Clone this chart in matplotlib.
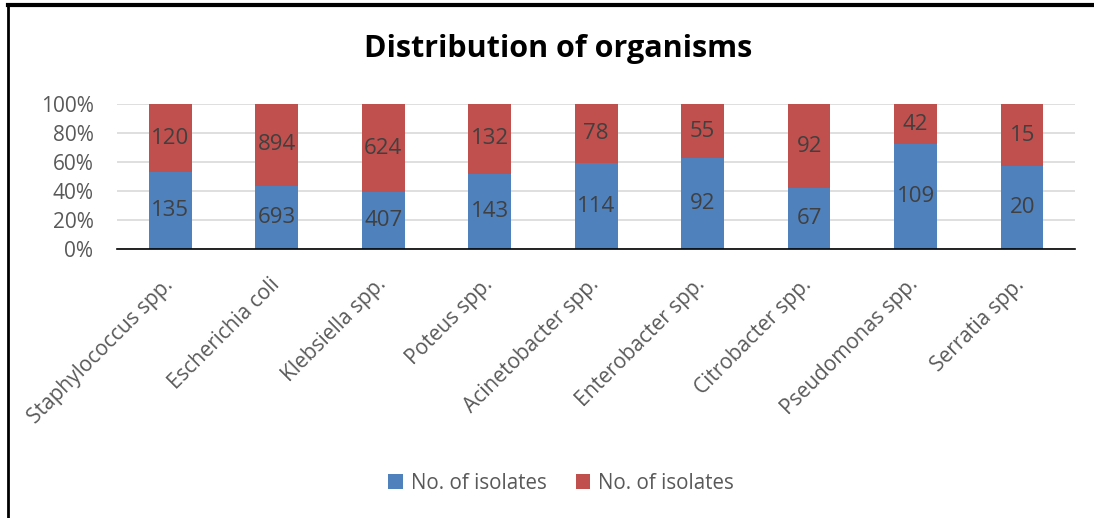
import matplotlib
matplotlib.use("Agg")
import matplotlib.pyplot as plt
from matplotlib.ticker import PercentFormatter
from matplotlib.lines import Line2D
from matplotlib.transforms import ScaledTranslation
import numpy as np

categories = ["Staphylococcus spp.", "Escherichia coli", "Klebsiella spp.", "Poteus spp.",
              "Acinetobacter spp.", "Enterobacter spp.", "Citrobacter spp.",
              "Pseudomonas spp.", "Serratia spp."]
series1 = [135, 693, 407, 143, 114, 92, 67, 109, 20]
series2 = [120, 894, 624, 132, 78, 55, 92, 42, 15]
series_names = ["No. of isolates", "No. of isolates"]
yticks = [0, 20, 40, 60, 80, 100]

blue = "#4F81BD"
red = "#C0504D"
txt = "#404040"
font = ["Open Sans", "DejaVu Sans"]
plt.rcParams["font.family"] = font

fig = plt.figure(figsize=(10.94, 5.18), dpi=100)
ax = fig.add_axes([0.107, 0.519, 0.876, 0.280])

s1 = np.array(series1, float)
s2 = np.array(series2, float)
tot = s1 + s2
p1 = s1 / tot * 100
p2 = s2 / tot * 100
x = np.arange(len(categories))
w = 0.4
b1 = ax.bar(x, p1, w, color=blue, label=series_names[0], zorder=3)
b2 = ax.bar(x, p2, w, bottom=p1, color=red, label=series_names[1], zorder=3)

for i in range(len(x)):
    ax.text(x[i], p1[i] / 2, str(series1[i]), ha="center", va="center",
            fontsize=16, color=txt, zorder=4)
    ax.text(x[i], p1[i] + p2[i] / 2, str(series2[i]), ha="center", va="center",
            fontsize=16, color=txt, zorder=4)

ax.set_xlim(-0.5, len(x) - 0.5)
ax.set_ylim(0, 100)
ax.set_yticks(yticks)
ax.yaxis.set_major_formatter(PercentFormatter(decimals=0))
ax.grid(axis="y", color="#D9D9D9", linewidth=1.2, zorder=0)
for s in ["top", "right", "left"]:
    ax.spines[s].set_visible(False)
ax.spines["bottom"].set_color("#000000")
ax.spines["bottom"].set_linewidth(1.2)
ax.spines["bottom"].set_zorder(5)
ax.tick_params(axis="y", length=0, labelsize=15, labelcolor="#595959", pad=17)
ax.tick_params(axis="x", length=0, labelsize=15, labelcolor="#595959", pad=18)
ax.set_xticks(x)
ax.set_xticklabels(categories, rotation=45, ha="right", rotation_mode="anchor")
offset = ScaledTranslation(-8 / 100, 0, fig.dpi_scale_trans)
for lab in ax.get_xticklabels():
    lab.set_transform(lab.get_transform() + offset)

fig.text(0.51, 0.905, "Distribution of organisms", ha="center", va="center",
         fontsize=22, fontweight="bold", color="#000000", family=["Open Sans", "DejaVu Sans"])

leg = fig.legend(handles=[b1, b2], labels=series_names, loc="center",
                 bbox_to_anchor=(0.513, 0.067), ncol=2, frameon=False,
                 fontsize=14.8, handlelength=0.7, handleheight=0.7,
                 columnspacing=1.4, handletextpad=0.4)
for t in leg.get_texts():
    t.set_color("#595959")

# outer frame (top and left edges visible)
fig.add_artist(Line2D([0.0075, 1.0], [0.99, 0.99], transform=fig.transFigure,
                      color="black", linewidth=3))
fig.add_artist(Line2D([0.0075, 0.0075], [0.0, 0.992], transform=fig.transFigure,
                      color="black", linewidth=2))

fig.savefig("out.png", dpi=100, facecolor="white")
